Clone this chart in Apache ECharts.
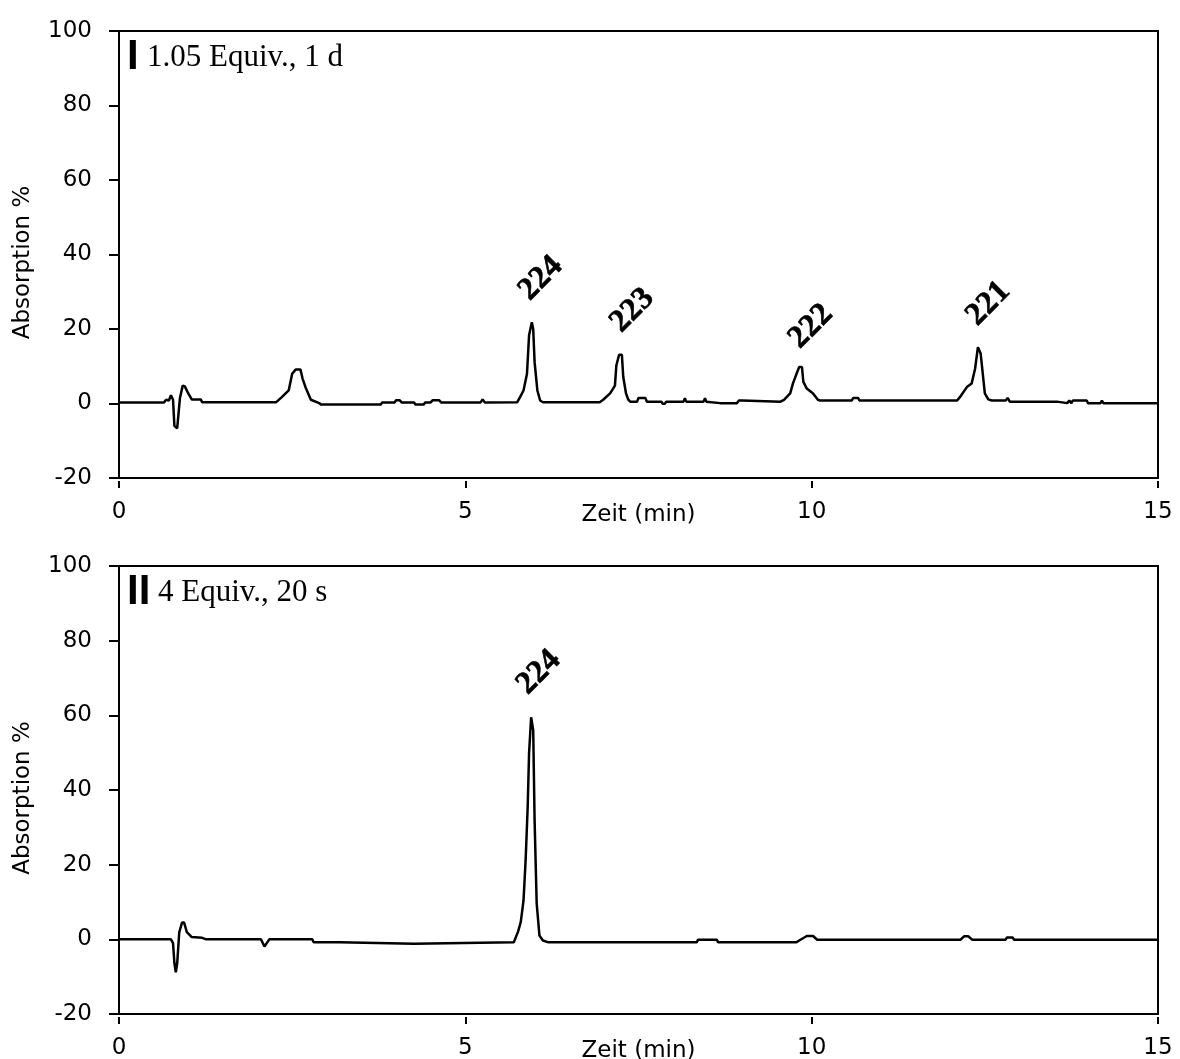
<!DOCTYPE html>
<html>
<head>
<meta charset="utf-8">
<script src="https://cdn.jsdelivr.net/npm/echarts@6/dist/echarts.min.js"></script>
<style>
html,body{margin:0;padding:0;background:#fff;}
#chart{width:1180px;height:1059px;}
</style>
</head>
<body>
<div id="chart"></div>
<script>
// ---- Data ----
const topTime = [0,0.65,0.68,0.72,0.75,0.78,0.8,0.84,0.86,0.88,0.92,0.95,1.0,1.05,1.18,1.2,2.27,2.35,2.45,2.5,2.55,2.62,2.65,2.7,2.77,2.89,2.92,3.78,3.8,3.98,4.0,4.05,4.08,4.26,4.28,4.4,4.42,4.5,4.53,4.62,4.65,5.22,5.25,5.28,5.75,5.79,5.84,5.89,5.92,5.96,5.98,6.0,6.04,6.08,6.12,6.94,6.99,7.09,7.16,7.18,7.22,7.26,7.28,7.32,7.35,7.38,7.48,7.5,7.6,7.62,7.83,7.85,7.88,7.9,8.15,8.17,8.19,8.44,8.46,8.48,8.68,8.92,8.95,9.0,9.02,9.55,9.6,9.69,9.73,9.79,9.82,9.86,9.88,9.93,10.02,10.09,10.12,10.58,10.6,10.67,10.69,12.1,12.14,12.24,12.31,12.36,12.4,12.44,12.47,12.5,12.55,12.6,12.8,12.83,12.86,13.54,13.55,13.69,13.72,13.75,13.77,13.97,13.99,14.17,14.19,14.21,15];
const topSignal = [0.3,0.3,1.0,0.8,2.2,1.0,-6.0,-6.7,-6.5,1.5,4.8,4.6,2.7,1.1,1.1,0.35,0.35,1.7,3.5,8,9.1,9.1,6.7,4,1.0,0.1,-0.3,-0.3,0.3,0.3,0.9,0.9,0.3,0.3,-0.3,-0.3,0.3,0.3,0.9,0.9,0.3,0.3,1.1,0.3,0.35,1.7,3.5,8,18.3,21.8,20,11.1,3.5,0.8,0.35,0.35,1.0,2.7,4.8,10.2,13.1,13.1,7.1,2.7,1.1,0.5,0.5,1.5,1.5,0.5,0.5,-0.1,-0.1,0.5,0.5,1.4,0.5,0.5,1.4,0.5,0.1,0.1,0.8,0.8,0.5,0.5,1.0,2.7,5.4,8.4,9.8,9.8,5.8,4,2.7,1.0,0.8,0.8,1.5,1.5,0.8,0.8,1.7,4.4,5.4,9.4,15.1,13.4,8,2.7,1.1,0.8,0.8,1.5,0.5,0.5,0.1,0.1,0.8,0.1,0.8,0.8,0.1,0.1,0.8,0.1,0.1];

const bottomTime = [0,0.75,0.78,0.8,0.82,0.84,0.87,0.91,0.94,0.98,1.05,1.2,1.26,2.05,2.1,2.17,2.79,2.81,3.18,3.2,4.26,4.28,5.7,5.72,5.76,5.8,5.84,5.87,5.9,5.92,5.95,5.98,6.0,6.03,6.07,6.12,6.2,8.34,8.36,8.63,8.65,9.78,9.82,9.93,10.02,10.08,12.15,12.2,12.26,12.32,12.8,12.82,12.9,12.92,15];
const bottomSignal = [0,0,-1,-6.4,-8.8,-6.4,1.9,4.5,4.5,1.9,0.6,0.4,0,0,-1.9,0,0,-0.8,-0.8,-1.2,-1.2,-0.8,-0.8,-0.3,2,4.6,10.4,21,35.4,49.8,59.5,56,31.9,9.6,1,-0.3,-0.8,-0.8,-0.1,-0.1,-0.8,-0.8,-0.3,0.9,0.9,-0.1,-0.1,0.8,0.8,-0.1,-0.1,0.5,0.5,-0.1,-0.1];

const topPeakTime = [6.09, 7.41, 9.99, 12.55];
const topPeakPos = [33.6, 25.0, 20.7, 26.8];
const topPeakText = ['224', '223', '222', '221'];
const bottomPeakTime = [6.06];
const bottomPeakPos = [71.5];
const bottomPeakText = ['224'];

const xTicks = [0, 5, 10, 15];
const yTicks = [-20, 0, 20, 40, 60, 80, 100];

const topPanelNum = 'I';
const topPanelText = '1.05 Equiv., 1 d';
const bottomPanelNum = 'II';
const bottomPanelText = '4 Equiv., 20 s';

// ---- Build ----
const zip = (a, b) => a.map((v, i) => [v, b[i]]);
const zip3 = (a, b, c) => a.map((v, i) => [v, b[i], c[i]]);

const SANS = 'DejaVu Sans';
const SERIF = 'Liberation Serif';

function xAxisCfg(gi) {
  return {
    gridIndex: gi, type: 'value', min: xTicks[0], max: xTicks[xTicks.length - 1], interval: 5,
    name: 'Zeit (min)', nameLocation: 'middle', nameGap: 23, nameMoveOverlap: false,
    nameTextStyle: { fontFamily: SANS, fontSize: 23, color: '#000', verticalAlign: 'top' },
    offset: 3,
    axisLine: { show: false, onZero: false },
    axisTick: { show: true, length: 7, inside: false, lineStyle: { color: '#000', width: 2 } },
    axisLabel: { fontFamily: SANS, fontSize: 23, color: '#000', margin: 20 },
    splitLine: { show: false }
  };
}
function yAxisCfg(gi) {
  return {
    gridIndex: gi, type: 'value', min: yTicks[0], max: yTicks[yTicks.length - 1], interval: 20,
    name: 'Absorption %', nameLocation: 'middle', nameGap: 84, nameMoveOverlap: false,
    nameTextStyle: { fontFamily: SANS, fontSize: 23, color: '#000', padding: [0, 16, 0, 0] },
    axisLine: { show: true, onZero: false, lineStyle: { color: '#000', width: 2 } },
    axisTick: { show: true, length: 10, lineStyle: { color: '#000', width: 2 } },
    axisLabel: { fontFamily: SANS, fontSize: 23, color: '#000', margin: 27 },
    splitLine: { show: false }
  };
}
function peakSeries(gi, pts) {
  return {
    type: 'scatter', xAxisIndex: gi, yAxisIndex: gi, symbolSize: 0, silent: true,
    itemStyle: { opacity: 1 },
    data: pts,
    label: {
      show: true, position: 'inside', rotate: 45, opacity: 1,
      formatter: p => '{s|' + p.value[2] + '}',
      rich: {
        s: { fontFamily: SERIF, fontWeight: 'bold', fontSize: 32, color: '#000', textBorderColor: '#000', textBorderWidth: 0.6 }
      }
    }
  };
}

const chart = echarts.init(document.getElementById('chart'), null, { renderer: 'canvas' });
chart.setOption({
  animation: false,
  backgroundColor: '#fff',
  grid: [
    { left: 119, right: 22, top: 31, height: 447, show: true, borderColor: '#000', borderWidth: 2, backgroundColor: 'transparent', outerBoundsMode: 'none', containLabel: false },
    { left: 119, right: 22, top: 566, height: 448, show: true, borderColor: '#000', borderWidth: 2, backgroundColor: 'transparent', outerBoundsMode: 'none', containLabel: false }
  ],
  xAxis: [xAxisCfg(0), xAxisCfg(1)],
  yAxis: [yAxisCfg(0), yAxisCfg(1)],
  series: [
    { type: 'line', xAxisIndex: 0, yAxisIndex: 0, data: zip(topTime, topSignal), showSymbol: false, symbol: 'none',
      lineStyle: { color: '#000', width: 2.5 }, silent: true },
    { type: 'line', xAxisIndex: 1, yAxisIndex: 1, data: zip(bottomTime, bottomSignal), showSymbol: false, symbol: 'none',
      lineStyle: { color: '#000', width: 2.5 }, silent: true },
    peakSeries(0, zip3(topPeakTime, topPeakPos, topPeakText)),
    peakSeries(1, zip3(bottomPeakTime, bottomPeakPos, bottomPeakText))
  ],
  graphic: [
    { type: 'text', left: 127, top: 36, style: { text: topPanelNum, fontFamily: 'Liberation Sans', fontWeight: 'bold', fontSize: 42, fill: '#000' } },
    { type: 'text', left: 147, top: 42, style: { text: topPanelText, fontFamily: SERIF, fontSize: 31, fill: '#000' } },
    { type: 'text', left: 127, top: 571, style: { text: bottomPanelNum, fontFamily: 'Liberation Sans', fontWeight: 'bold', fontSize: 42, fill: '#000' } },
    { type: 'text', left: 158, top: 577, style: { text: bottomPanelText, fontFamily: SERIF, fontSize: 31, fill: '#000' } }
  ]
});
</script>
</body>
</html>
